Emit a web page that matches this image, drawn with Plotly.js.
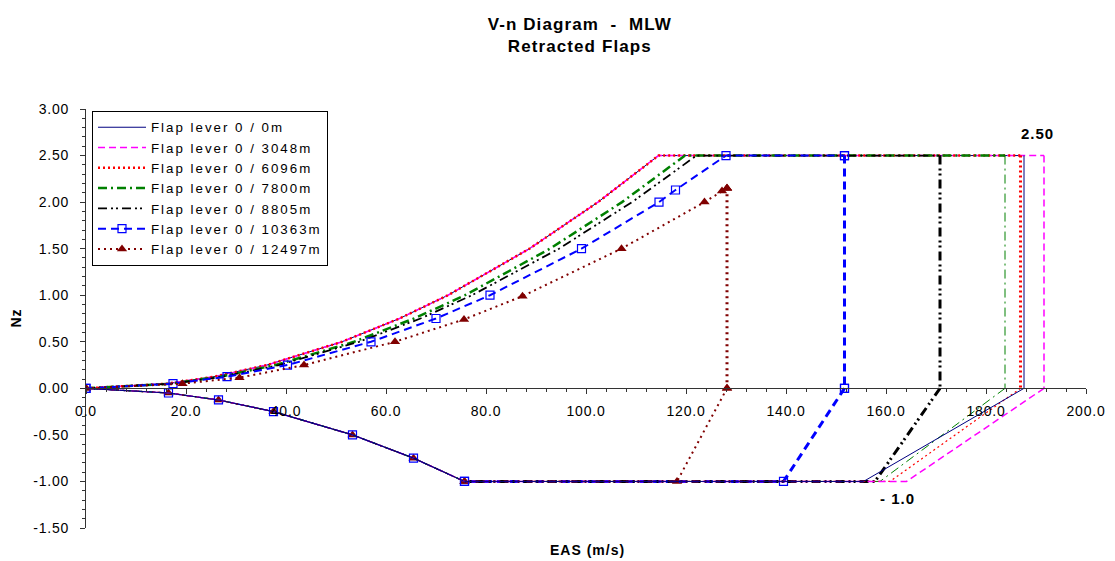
<!DOCTYPE html>
<html><head><meta charset="utf-8">
<script src="https://cdn.plot.ly/plotly-3.0.1.min.js"></script>
<style>
html,body{margin:0;padding:0;background:#fff}
#chart{width:1115px;height:561px}
.gtitle{letter-spacing:1.1px}
.xtick text,.ytick text{letter-spacing:0.8px}
.legendtext{letter-spacing:2px}
.annotation-text{letter-spacing:1px}
</style>
</head><body><div id="chart"></div>
<script>
// ---- data ----
const seriesNames = ['Flap lever 0 / 0m','Flap lever 0 / 3048m','Flap lever 0 / 6096m','Flap lever 0 / 7800m','Flap lever 0 / 8805m','Flap lever 0 / 10363m','Flap lever 0 / 12497m'];

// positive (stall) branch: EAS and Nz for each series
const posV_0m     = [0, 16.2, 25.6, 36.2, 51.2, 62.7, 72.4, 88.7, 102.4, 114.5];
const posN_0m     = [0, 0.05, 0.125, 0.25, 0.5, 0.75, 1.0, 1.5, 2.0, 2.5];
const posV_3048m  = [0, 16.2, 25.6, 36.2, 51.2, 62.7, 72.4, 88.7, 102.4, 114.5];
const posN_3048m  = [0, 0.05, 0.125, 0.25, 0.5, 0.75, 1.0, 1.5, 2.0, 2.5];
const posV_6096m  = [0, 16.2, 25.6, 36.2, 51.2, 62.7, 72.4, 88.7, 102.4, 114.5];
const posN_6096m  = [0, 0.05, 0.125, 0.25, 0.5, 0.75, 1.0, 1.5, 2.0, 2.5];
const posV_7800m  = [0, 16.9, 26.8, 37.9, 53.6, 65.6, 75.8, 92.8, 107.2, 119.8];
const posN_7800m  = [0, 0.05, 0.125, 0.25, 0.5, 0.75, 1.0, 1.5, 2.0, 2.5];
const posV_8805m  = [0, 17.3, 27.3, 38.6, 54.6, 66.9, 77.2, 94.6, 109.2, 122.1];
const posN_8805m  = [0, 0.05, 0.125, 0.25, 0.5, 0.75, 1.0, 1.5, 2.0, 2.5];
const posV_10363m = [0, 17.4, 28.2, 40.3, 57.0, 70.0, 80.8, 99.1, 114.6, 117.9, 128.0];
const posN_10363m = [0, 0.05, 0.125, 0.25, 0.5, 0.75, 1.0, 1.5, 2.0, 2.13, 2.5];
const posV_12497m = [0, 19.3, 30.7, 43.6, 61.8, 75.6, 87.3, 107.1, 123.7, 127.2, 128.2];
const posN_12497m = [0, 0.05, 0.115, 0.25, 0.5, 0.74, 0.99, 1.5, 2.0, 2.12, 2.15];

// dive speed (vertical edge), cruise speed at Nz=-1, top Nz of the envelope
const VD   = [187.6, 191.6, 186.9, 183.8, 170.8, 151.7, 128.2];
const VC   = [155.5, 164.1, 160.8, 158.8, 157.8, 139.5, 118.2];
const NTOP = [2.5, 2.5, 2.5, 2.5, 2.5, 2.5, 2.15];

// negative branch (common to all series)
const negV = [75.7, 65.5, 53.3, 37.5, 26.5, 16.5, 0];
const negN = [-1.0, -0.75, -0.5, -0.25, -0.125, -0.05, 0];

const xTickLabels = ['0.0','20.0','40.0','60.0','80.0','100.0','120.0','140.0','160.0','180.0','200.0'];
const yTickLabels = ['-1.50','-1.00','-0.50','0.00','0.50','1.00','1.50','2.00','2.50','3.00'];

// ---- styling ----
const posV = [posV_0m, posV_3048m, posV_6096m, posV_7800m, posV_8805m, posV_10363m, posV_12497m];
const posN = [posN_0m, posN_3048m, posN_6096m, posN_7800m, posN_8805m, posN_10363m, posN_12497m];
const colors = ['#000080', '#FF00FF', '#FF0000', '#008000', '#000000', '#0000FF', '#800000'];
const dashes = ['solid', '7px,4px', '2px,3px', '9px,4px,2px,4px', '9px,4px,2px,3px,2px,4px', '8px,5px', '2px,4px'];
const wCurve = [1, 1.5, 2.5, 2.5, 1.8, 2, 2];
const wVert  = [1, 1.5, 3, 1, 3, 3, 3];
const wDiag  = [1, 1.5, 1.2, 1, 3, 3, 2];
const markers = [null, null, null, null, null,
  {symbol: 'square-open', size: 8, color: '#0000FF', line: {width: 1.2, color: '#0000FF'}},
  {symbol: 'triangle-up', size: 9, color: '#800000'}];

const FONT = 'Liberation Sans, Arial, sans-serif';

function mk(i, x, y, width, extra) {
  const t = Object.assign({
    x: x, y: y, type: 'scatter', legendgroup: 'g' + i,
    mode: markers[i] ? 'lines+markers' : 'lines',
    line: {color: colors[i], width: width, dash: dashes[i]}
  }, extra);
  if (markers[i]) t.marker = markers[i];
  return t;
}

const traces = [];
for (let i = 0; i < 7; i++) {
  traces.push(mk(i, posV[i].concat([VD[i]]), posN[i].concat([NTOP[i]]), wCurve[i], {name: seriesNames[i], showlegend: true}));
}
for (let i = 6; i >= 0; i--) {
  traces.push(mk(i, [VD[i], VD[i]], [NTOP[i], 0], wVert[i], {showlegend: false}));
  traces.push(mk(i, [VD[i], VC[i], negV[0]], [0, -1, -1], wDiag[i], {showlegend: false}));
  traces.push(mk(i, negV, negN, 1.2, {showlegend: false}));
}

const xTickVals = xTickLabels.map(Number);
const yTickVals = yTickLabels.map(Number);
const axisColor = '#333333';

const layout = {
  width: 1115, height: 561,
  paper_bgcolor: '#ffffff', plot_bgcolor: '#ffffff',
  margin: {l: 86, r: 29, t: 109, b: 33, pad: 0},
  font: {family: FONT, size: 14, color: '#000'},
  title: {
    text: '<b>V-n Diagram\u00a0\u00a0-\u00a0\u00a0MLW<br>Retracted Flaps</b>',
    x: 0.52, xref: 'container', xanchor: 'center',
    y: 0.947, yref: 'container', yanchor: 'middle',
    font: {family: FONT, size: 17, color: '#000'}
  },
  showlegend: true,
  legend: {
    x: 0.006, y: 0.995, xanchor: 'left', yanchor: 'top',
    bgcolor: '#ffffff', bordercolor: '#000000', borderwidth: 1,
    font: {family: FONT, size: 13.3, color: '#000'},
    itemwidth: 48, tracegroupgap: 0, traceorder: 'normal'
  },
  xaxis: {
    range: [0, 200], tickmode: 'array', tickvals: xTickVals, ticktext: xTickLabels,
    anchor: 'free', position: 1.5 / 4.5,
    showline: true, linecolor: axisColor, linewidth: 1,
    ticks: 'outside', ticklen: 5, tickcolor: axisColor, tickwidth: 1,
    minor: {dtick: 4, ticks: 'outside', ticklen: 3, tickcolor: axisColor, showgrid: false},
    showgrid: false, zeroline: false, ticklabelstandoff: 5,
    tickfont: {family: FONT, size: 14, color: '#000'}
  },
  yaxis: {
    range: [-1.5, 3], tickmode: 'array', tickvals: yTickVals, ticktext: yTickLabels,
    showline: true, linecolor: axisColor, linewidth: 1,
    ticks: 'outside', ticklen: 5, tickcolor: axisColor, tickwidth: 1,
    minor: {dtick: 0.1, ticks: 'outside', ticklen: 3, tickcolor: axisColor, showgrid: false},
    showgrid: false, zeroline: false, ticklabelstandoff: 8,
    tickfont: {family: FONT, size: 14, color: '#000'}
  },
  annotations: [
    {text: '<b>2.50</b>', x: 190.2, y: 2.74, xref: 'x', yref: 'y', showarrow: false,
     font: {family: FONT, size: 15, color: '#000'}},
    {text: '<b>- 1.0</b>', x: 162.2, y: -1.185, xref: 'x', yref: 'y', showarrow: false,
     font: {family: FONT, size: 15, color: '#000'}},
    {text: '<b>EAS (m/s)</b>', x: 100.3, y: -0.053, xref: 'x', yref: 'paper', showarrow: false,
     yanchor: 'middle', font: {family: FONT, size: 14, color: '#000'}},
    {text: '<b>Nz</b>', x: -0.071, y: 0.75, xref: 'paper', yref: 'y', showarrow: false,
     xanchor: 'center', yanchor: 'middle',
     textangle: -90, font: {family: FONT, size: 14, color: '#000'}}
  ]
};

Plotly.newPlot('chart', traces, layout, {staticPlot: true, displayModeBar: false});
</script>
</body></html>
